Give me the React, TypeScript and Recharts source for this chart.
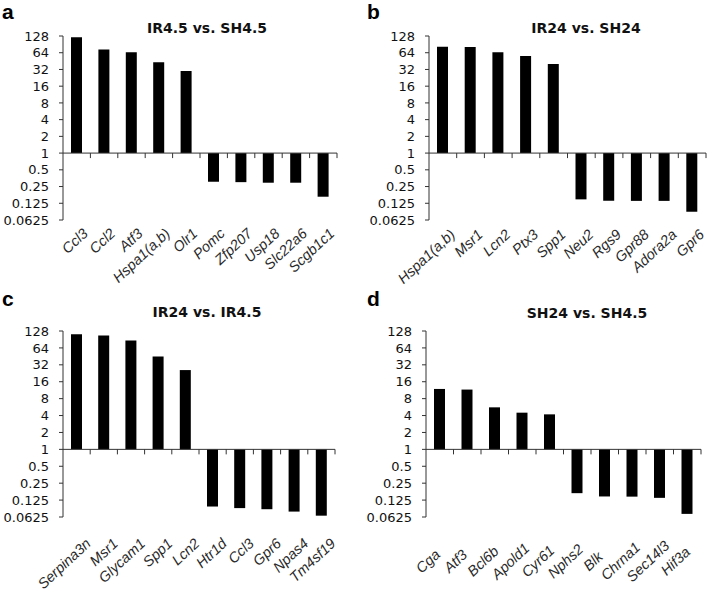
import React from 'react';
import { BarChart, Bar, XAxis, YAxis, ReferenceLine } from 'recharts';

// ---- data ----
const genesA = ['Ccl3', 'Ccl2', 'Atf3', 'Hspa1(a,b)', 'Olr1', 'Pomc', 'Zfp207', 'Usp18', 'Slc22a6', 'Scgb1c1'];
const foldA = [121, 73, 65, 43, 30, 0.305, 0.3, 0.293, 0.293, 0.164];

const genesB = ['Hspa1(a,b)', 'Msr1', 'Lcn2', 'Ptx3', 'Spp1', 'Neu2', 'Rgs9', 'Gpr88', 'Adora2a', 'Gpr6'];
const foldB = [82, 81, 65, 56, 40, 0.147, 0.139, 0.138, 0.138, 0.088];

const genesC = ['Serpina3n', 'Msr1', 'Glycam1', 'Spp1', 'Lcn2', 'Htr1d', 'Ccl3', 'Gpr6', 'Npas4', 'Tm4sf19'];
const foldC = [112, 106, 87, 45, 25.8, 0.096, 0.09, 0.086, 0.078, 0.066];

const genesD = ['Cga', 'Atf3', 'Bcl6b', 'Apold1', 'Cyr61', 'Nphs2', 'Blk', 'Chrna1', 'Sec14l3', 'Hif3a'];
const foldD = [11.9, 11.6, 5.6, 4.5, 4.2, 0.166, 0.145, 0.144, 0.137, 0.071];

const yTickValues = [0.0625, 0.125, 0.25, 0.5, 1, 2, 4, 8, 16, 32, 64, 128];
const titles = ['IR4.5 vs. SH4.5', 'IR24 vs. SH24', 'IR24 vs. IR4.5', 'SH24 vs. SH4.5'];
const letters = ['a', 'b', 'c', 'd'];

const buildData = (genes: string[], folds: number[]) =>
  genes.map((g, i) => ({ gene: g, log2: Math.log2(folds[i]) }));

const yTicks = yTickValues.map((v) => Math.log2(v));
const Y_MIN = Math.log2(yTickValues[0]);
const Y_MAX = Math.log2(yTickValues[yTickValues.length - 1]);

const AXIS = '#333';
const CAT_FONT = '"Liberation Sans", Arial, sans-serif';
const NUM_FONT = '"DejaVu Sans", sans-serif';

type PanelCfg = {
  left: number;
  top: number;
  width: number;
  height: number;
  margin: { top: number; right: number; bottom: number; left: number };
  mode: 'end' | 'middle';
  ldx: number;
  ldy: number;
};

const CatTick = (props: any) => {
  const { x, y, payload, band, zeroOffset, mode, ldx, ldy } = props;
  const baseY = y - zeroOffset;
  const tx = x + band / 2;
  const common = {
    fontFamily: CAT_FONT,
    fontStyle: 'italic',
    fontSize: 14.5,
    fill: '#2a2a2a',
  } as any;
  return (
    <g>
      <line x1={tx} x2={tx} y1={baseY} y2={baseY + 5} stroke={AXIS} strokeWidth={1} />
      {mode === 'end' ? (
        <text
          transform={`translate(${x + ldx},${y + ldy}) rotate(-43)`}
          textAnchor="end"
          dy="0.72em"
          {...common}
        >
          {payload.value}
        </text>
      ) : (
        <text
          transform={`translate(${x + ldx},${y + ldy}) rotate(-43)`}
          textAnchor="middle"
          dy="0.36em"
          {...common}
        >
          {payload.value}
        </text>
      )}
    </g>
  );
};

const Y_AXIS_W = 55;
const X_AXIS_H = 70;

const Panel = ({ cfg, data }: { cfg: PanelCfg; data: any[] }) => {
  const plotW = cfg.width - cfg.margin.left - cfg.margin.right - Y_AXIS_W;
  const plotH = cfg.height - cfg.margin.top - cfg.margin.bottom - X_AXIS_H;
  const band = plotW / data.length;
  const zeroOffset = (plotH * (0 - Y_MIN)) / (Y_MAX - Y_MIN);
  return (
    <div style={{ position: 'absolute', left: cfg.left, top: cfg.top }}>
      <BarChart width={cfg.width} height={cfg.height} data={data} margin={cfg.margin}>
        <XAxis
          dataKey="gene"
          interval={0}
          height={X_AXIS_H}
          axisLine={false}
          tickLine={false}
          tickSize={0}
          tickMargin={0}
          tick={(p: any) => (
            <CatTick {...p} band={band} zeroOffset={zeroOffset} mode={cfg.mode} ldx={cfg.ldx} ldy={cfg.ldy} />
          )}
        />
        <YAxis
          type="number"
          width={Y_AXIS_W}
          domain={[Y_MIN, Y_MAX]}
          ticks={yTicks}
          interval={0}
          tickSize={4}
          tickMargin={10}
          axisLine={{ stroke: AXIS }}
          tickLine={{ stroke: AXIS }}
          tick={{ fontFamily: NUM_FONT, fontSize: 13, fill: '#111' }}
          tickFormatter={(v: number) => String(Math.pow(2, v))}
        />
        <ReferenceLine y={0} stroke={AXIS} strokeWidth={1} ifOverflow="extendDomain" />
        <Bar dataKey="log2" fill="#000" barSize={11} isAnimationActive={false} />
      </BarChart>
    </div>
  );
};

const cfgs: PanelCfg[] = [
  { left: 0, top: 0, width: 354, height: 298, margin: { top: 36, right: 17, bottom: 8, left: 8 }, mode: 'end', ldx: 5, ldy: 7 },
  { left: 354, top: 0, width: 355, height: 298, margin: { top: 36, right: 3, bottom: 8, left: 20 }, mode: 'end', ldx: 6, ldy: 8 },
  { left: 0, top: 298, width: 354, height: 298, margin: { top: 33, right: 19, bottom: 9, left: 8 }, mode: 'end', ldx: 8, ldy: 20 },
  { left: 354, top: 298, width: 355, height: 298, margin: { top: 33, right: 8, bottom: 9, left: 17 }, mode: 'middle', ldx: -12, ldy: 44 },
];

const datasets = [
  buildData(genesA, foldA),
  buildData(genesB, foldB),
  buildData(genesC, foldC),
  buildData(genesD, foldD),
];

const titlePos = [
  { x: 207, y: 33 },
  { x: 586, y: 33 },
  { x: 207, y: 317 },
  { x: 587, y: 318 },
];
const letterPos = [
  { x: 2, y: 19 },
  { x: 367, y: 19 },
  { x: 2, y: 306 },
  { x: 367, y: 306 },
];

export default function App() {
  return (
    <div style={{ position: 'absolute', left: 0, top: 0, width: 709, height: 596, background: '#fff', overflow: 'hidden' }}>
      {cfgs.map((c, i) => (
        <Panel key={i} cfg={c} data={datasets[i]} />
      ))}
      <svg width={709} height={596} style={{ position: 'absolute', left: 0, top: 0, pointerEvents: 'none' }}>
        {titles.map((t, i) => (
          <text
            key={t}
            x={titlePos[i].x}
            y={titlePos[i].y}
            textAnchor="middle"
            fontFamily={NUM_FONT}
            fontWeight="bold"
            fontSize={14}
            fill="#111"
          >
            {t}
          </text>
        ))}
        {letters.map((l, i) => (
          <text
            key={l}
            x={letterPos[i].x}
            y={letterPos[i].y}
            fontFamily='"Liberation Sans", Arial, sans-serif'
            fontWeight="bold"
            fontSize={21}
            fill="#000"
          >
            {l}
          </text>
        ))}
      </svg>
    </div>
  );
}
